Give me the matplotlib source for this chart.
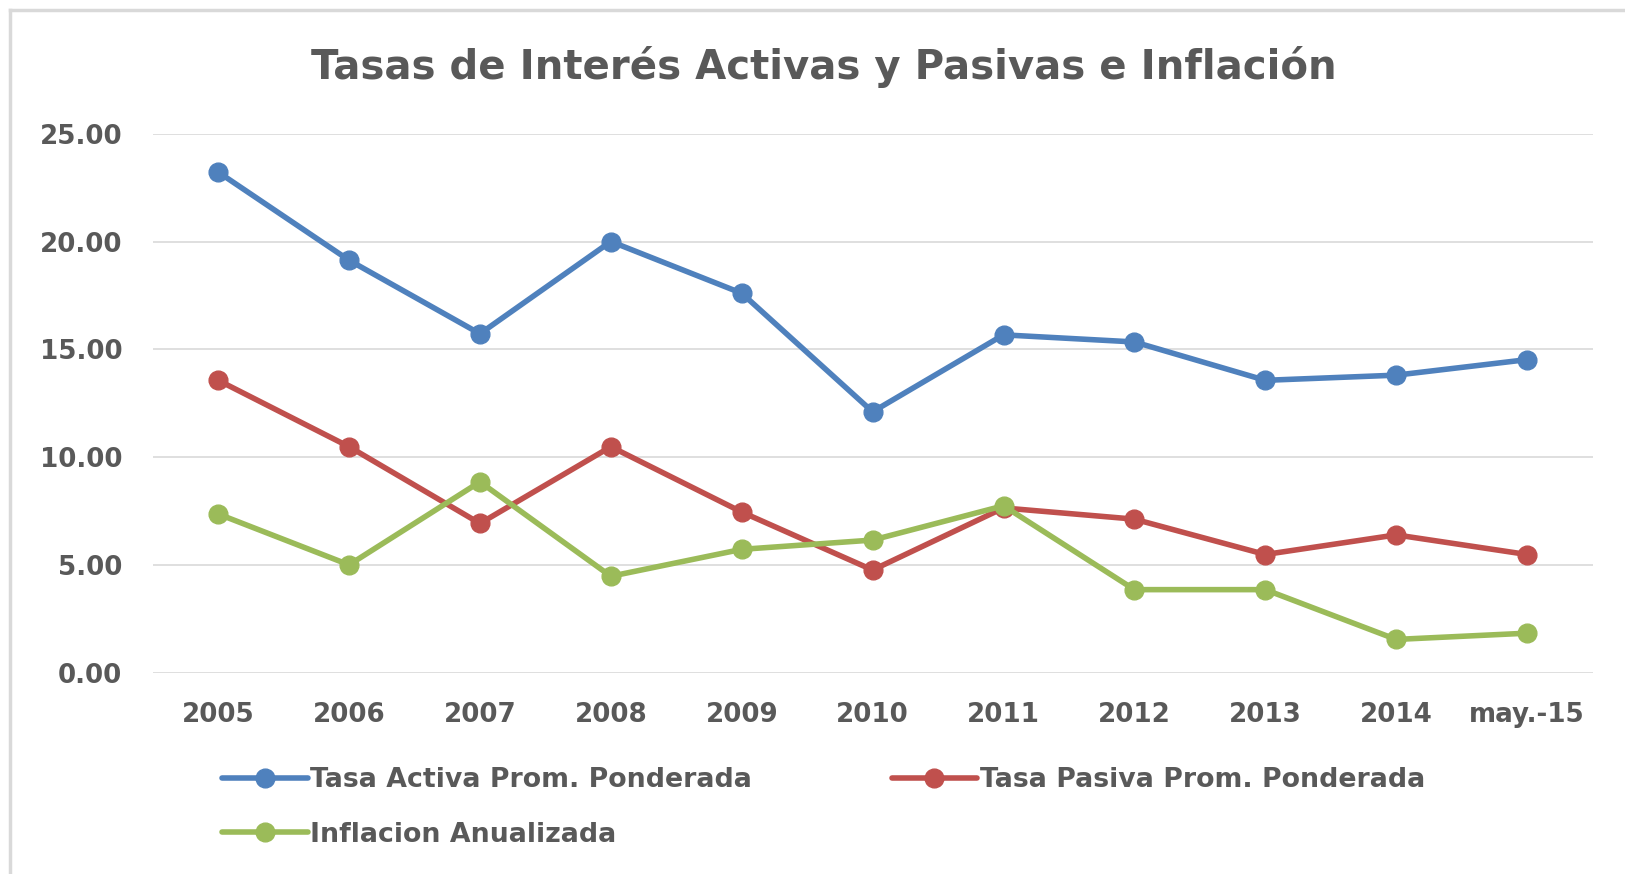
import matplotlib
matplotlib.use('Agg')
import matplotlib.pyplot as plt
from matplotlib.lines import Line2D

periods = ['2005', '2006', '2007', '2008', '2009', '2010', '2011', '2012', '2013', '2014', 'may.-15']
tasa_activa = [23.22, 19.13, 15.72, 20.00, 17.60, 12.10, 15.67, 15.34, 13.56, 13.80, 14.52]
tasa_pasiva = [13.56, 10.48, 6.92, 10.48, 7.45, 4.76, 7.64, 7.12, 5.48, 6.39, 5.48]
inflacion = [7.36, 5.00, 8.85, 4.47, 5.72, 6.15, 7.74, 3.85, 3.85, 1.54, 1.83]
y_ticks = [0, 5, 10, 15, 20, 25]

TEXT = '#595959'
BLUE = '#4F81BD'
RED = '#C0504D'
GREEN = '#9BBB59'


def main():
    plt.rcParams['font.family'] = ['DejaVu Sans']
    fig = plt.figure(figsize=(16.25, 8.74), dpi=100)
    ax = fig.add_axes([0.094, 0.2304, 0.886, 0.6166])

    x = list(range(len(periods)))
    style = dict(linewidth=4, marker='o', markersize=13.5, solid_capstyle='round')
    h_act, = ax.plot(x, tasa_activa, color=BLUE, label='Tasa Activa Prom. Ponderada', **style)
    h_pas, = ax.plot(x, tasa_pasiva, color=RED, label='Tasa Pasiva Prom. Ponderada', **style)
    h_inf, = ax.plot(x, inflacion, color=GREEN, label='Inflacion Anualizada', **style)

    ax.set_xlim(-0.5, len(periods) - 0.5)
    ax.set_ylim(0, 25)
    ax.set_xticks(x)
    ax.set_xticklabels(periods)
    ax.set_yticks(y_ticks)
    ax.set_yticklabels(['%.2f' % v for v in y_ticks])
    ax.tick_params(axis='x', length=0, pad=21, labelsize=18.8, labelcolor=TEXT)
    ax.tick_params(axis='y', length=0, pad=22, labelsize=18.8, labelcolor=TEXT)
    for lab in ax.get_xticklabels() + ax.get_yticklabels():
        lab.set_fontweight('bold')

    ax.grid(axis='y', color='#D9D9D9', linewidth=1.2)
    ax.set_axisbelow(True)
    for s in ax.spines.values():
        s.set_visible(False)
    for ln in ax.get_lines():
        ln.set_clip_on(False)

    fig.text(0.507, 0.923, 'Tasas de Interés Activas y Pasivas e Inflación',
             ha='center', va='center', fontsize=29, fontweight='bold', color=TEXT)

    leg = fig.legend([h_act, h_inf, h_pas],
                     [h_act.get_label(), h_inf.get_label(), h_pas.get_label()],
                     ncol=2, loc='upper left', bbox_to_anchor=(0.1365, 0.122),
                     frameon=False, fontsize=19.3, handlelength=3.2, handletextpad=0.1,
                     columnspacing=5.2, labelspacing=1.05, borderaxespad=0, borderpad=0)
    for t in leg.get_texts():
        t.set_color(TEXT)
        t.set_fontweight('bold')

    # light chart frame
    fig.add_artist(Line2D([0.006, 0.006], [0.0, 0.988], color='#D9D9D9', linewidth=2.5))
    fig.add_artist(Line2D([0.006, 1.0], [0.988, 0.988], color='#D9D9D9', linewidth=2.5))

    fig.savefig('out.png', dpi=100, facecolor='white')


if __name__ == '__main__':
    main()
